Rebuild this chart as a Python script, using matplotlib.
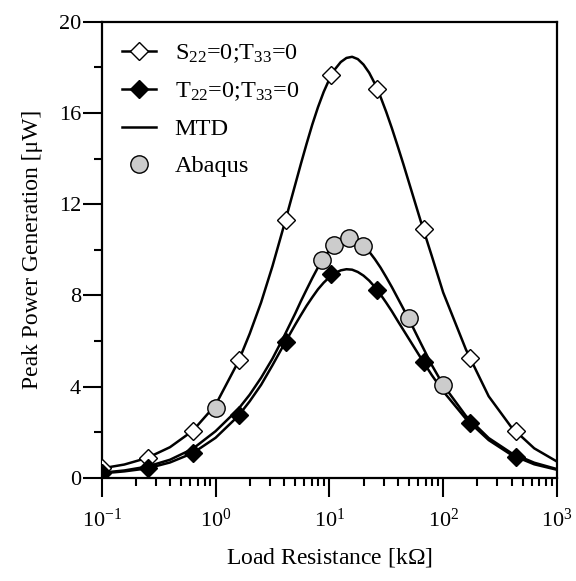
import numpy as np
import matplotlib
matplotlib.use("Agg")
import matplotlib.pyplot as plt
import matplotlib.ticker as ticker
from matplotlib.lines import Line2D

plt.rcParams['font.family'] = ['Liberation Serif', 'DejaVu Serif']
plt.rcParams['mathtext.fontset'] = 'custom'
plt.rcParams['mathtext.rm'] = 'Liberation Serif'
plt.rcParams['mathtext.it'] = 'Liberation Serif:italic'

# marker data
R_marker = [0.1, 0.254, 0.637, 1.61, 4.12, 10.4, 26.3, 67.6, 171, 433]
P_S22 = [0.42, 0.89, 2.08, 5.15, 11.29, 17.65, 17.07, 10.9, 5.27, 2.04]
P_T22 = [0.2, 0.42, 1.1, 2.76, 5.95, 8.93, 8.24, 5.1, 2.4, 0.91]

R_abaqus = [1.0, 8.7, 11.0, 14.9, 19.8, 49.9, 100]
P_abaqus = [3.05, 9.54, 10.2, 10.52, 10.15, 7.03, 4.06]

# curves
R_curve = [0.1, 0.158, 0.251, 0.398, 0.631, 1.0, 1.585, 1.995, 2.512, 3.162,
           3.981, 5.012, 5.623, 6.31, 7.079, 7.943, 8.913, 10.0, 11.22, 12.59,
           14.13, 15.85, 17.78, 19.95, 22.39, 25.12, 28.18, 31.62, 35.48, 39.81,
           44.67, 50.12, 63.1, 79.43, 100, 158.5, 251.2, 398.1, 631, 1000]
P_S22_curve = [0.42, 0.59, 0.88, 1.35, 2.07, 3.2, 5.1, 6.32, 7.69, 9.28,
               11.04, 12.86, 13.77, 14.65, 15.49, 16.25, 16.92, 17.48, 17.92, 18.23,
               18.41, 18.46, 18.36, 18.12, 17.76, 17.28, 16.7, 16.04, 15.32, 14.55,
               13.76, 12.94, 11.3, 9.73, 8.13, 5.63, 3.58, 2.22, 1.3, 0.72]
P_T22_curve = [0.2, 0.29, 0.42, 0.68, 1.09, 1.76, 2.72, 3.36, 4.08, 4.94,
               5.84, 6.72, 7.14, 7.55, 7.92, 8.27, 8.56, 8.8, 8.98, 9.1,
               9.15, 9.13, 9.03, 8.87, 8.65, 8.37, 8.04, 7.68, 7.3, 6.89,
               6.49, 6.09, 5.29, 4.51, 3.8, 2.59, 1.66, 1.01, 0.6, 0.36]
P_MTD_curve = [0.23, 0.33, 0.5, 0.8, 1.28, 2.05, 3.02, 3.65, 4.39, 5.23,
               6.19, 7.21, 7.75, 8.26, 8.76, 9.23, 9.64, 9.98, 10.25, 10.42,
               10.5, 10.47, 10.36, 10.17, 9.92, 9.59, 9.22, 8.8, 8.36, 7.89,
               7.42, 6.95, 5.94, 4.95, 4.08, 2.72, 1.75, 1.09, 0.67, 0.39]

labels = [r'$\mathrm{S}_{22}$=0;$\mathrm{T}_{33}$=0',
          r'$\mathrm{T}_{22}$=0;$\mathrm{T}_{33}$=0',
          'MTD', 'Abaqus']

fig = plt.figure(figsize=(5.76, 5.81), dpi=100)
ax = fig.add_axes([0.1766, 0.1773, 0.7904, 0.7854])

lw = 1.8
ax.plot(R_curve, P_S22_curve, color='k', lw=lw, zorder=2)
ax.plot(R_curve, P_T22_curve, color='k', lw=lw, zorder=2)
ax.plot(R_curve, P_MTD_curve, color='k', lw=lw, zorder=2)

ax.plot(R_marker, P_S22, ls='none', marker='D', ms=8.8, mfc='white', mec='k', mew=1.0, zorder=4)
ax.plot(R_marker, P_T22, ls='none', marker='D', ms=8.8, mfc='k', mec='k', mew=1.0, zorder=4)
ax.plot(R_abaqus, P_abaqus, ls='none', marker='o', ms=12.5, mfc='#cccccc', mec='k', mew=1.0, zorder=3)

ax.set_xscale('log')
ax.set_xlim(0.1, 1000)
ax.set_ylim(0, 20)
ax.yaxis.set_major_locator(ticker.MultipleLocator(4))
ax.yaxis.set_minor_locator(ticker.MultipleLocator(2))
ax.xaxis.set_major_locator(ticker.LogLocator(base=10))
ax.xaxis.set_minor_locator(ticker.LogLocator(base=10, subs=np.arange(2, 10)))
ax.xaxis.set_minor_formatter(ticker.NullFormatter())

for s in ax.spines.values():
    s.set_linewidth(1.6)
ax.tick_params(axis='both', which='major', direction='out', length=14, width=1.5, labelsize=16)
ax.tick_params(axis='both', which='minor', direction='out', length=6, width=1.5)
ax.tick_params(axis='y', which='major', pad=1)
ax.tick_params(axis='x', which='major', pad=8)

ax.set_xlabel('Load Resistance [k$\\Omega$]', fontsize=17, labelpad=10)
ax.set_ylabel('Peak Power Generation [\u03bcW]', fontsize=17, labelpad=11)

handles = [
    Line2D([], [], color='k', lw=lw, marker='D', ms=8.8, mfc='white', mec='k'),
    Line2D([], [], color='k', lw=lw, marker='D', ms=8.8, mfc='k', mec='k'),
    Line2D([], [], color='k', lw=lw),
    Line2D([], [], ls='none', marker='o', ms=12.5, mfc='#cccccc', mec='k'),
]
ax.legend(handles, labels, loc='upper left', frameon=False, fontsize=17.5,
          handlelength=1.4, handletextpad=0.75, labelspacing=0.62,
          borderaxespad=0.45)

fig.savefig('out.png', dpi=100)
